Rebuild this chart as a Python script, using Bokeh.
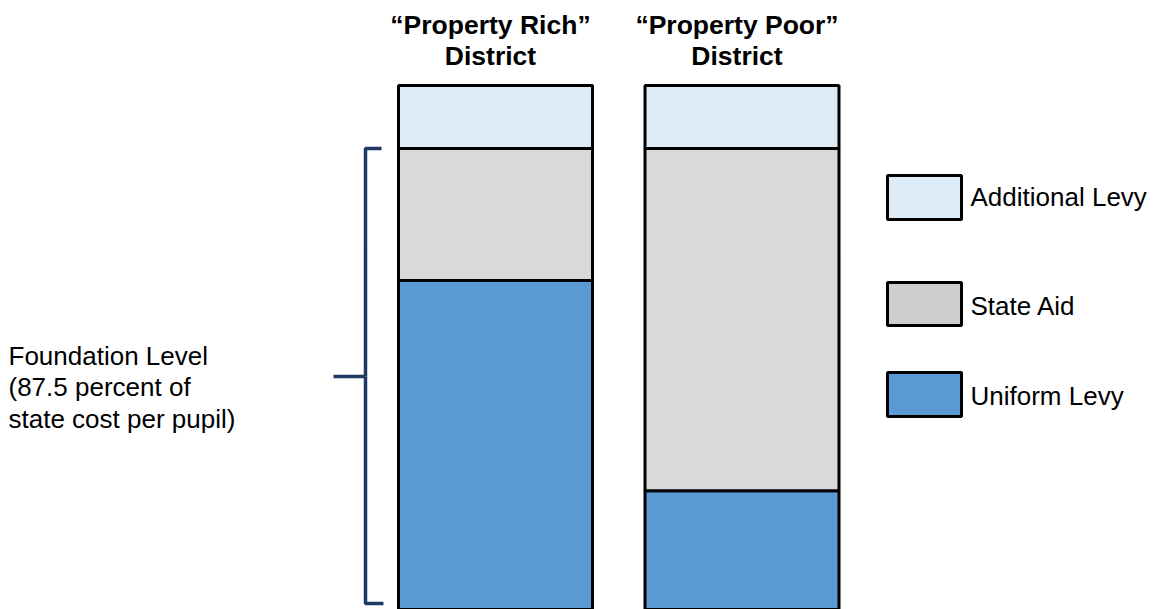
from bokeh.plotting import figure
from bokeh.models import Range1d, ColumnDataSource
from bokeh.core.properties import value
from bokeh.embed import file_html
from bokeh.resources import INLINE

# ---------------- data ----------------
districts = ["\u201cProperty Rich\u201d", "\u201cProperty Poor\u201d"]
district_sub = ["District", "District"]
uniform_levy = [71.5, 26.1]
state_aid = [28.5, 73.9]
additional_levy = [13.6, 13.6]
foundation_level = 100.0
series_names = ["Additional Levy", "State Aid", "Uniform Levy"]
left_note = ["Foundation Level", "(87.5 percent of", "state cost per pupil)"]

# ---------------- layout / style ----------------
W, H = 1156, 609
OFF = 0                      # observed page offset
BAR_SPACING_PX = 246.5       # px per x unit
BAR0_CENTER_IMG = 495.0
BAR_WIDTH = 0.787
PX_PER_UNIT = 4.63
ZERO_IMG_Y = 611.0

x0 = -(BAR0_CENTER_IMG - OFF) / BAR_SPACING_PX
x1 = x0 + W / BAR_SPACING_PX
y0 = (ZERO_IMG_Y - (OFF + H)) / PX_PER_UNIT
y1 = (ZERO_IMG_Y - OFF) / PX_PER_UNIT


def dx(img_x):
    return x0 + (img_x - OFF) / BAR_SPACING_PX


def dy(img_y):
    return (ZERO_IMG_Y - img_y) / PX_PER_UNIT


COL_ADD = "#DDEBF7"
COL_AID = "#D9D9D9"
COL_AID_LEG = "#D0CECE"
COL_UNI = "#5B9BD5"
NAVY = "#203864"
FONT = "Liberation Sans"

p = figure(width=W, height=H, output_backend="svg", toolbar_location=None,
           x_range=Range1d(x0, x1), y_range=Range1d(y0, y1),
           min_border=0, min_border_left=0, min_border_right=0,
           min_border_top=0, min_border_bottom=0)
p.axis.visible = False
p.grid.visible = False
p.outline_line_color = None
p.background_fill_color = "white"

xs = list(range(len(districts)))
bottom_uni = [0.0 - 3.0 for _ in xs]
top_uni = list(uniform_levy)
top_aid = [u + s for u, s in zip(uniform_levy, state_aid)]
top_add = [t + a for t, a in zip(top_aid, additional_levy)]

src = ColumnDataSource(dict(x=xs, b_uni=bottom_uni, t_uni=top_uni,
                            t_aid=top_aid, t_add=top_add))
p.vbar(x="x", width=BAR_WIDTH, bottom="b_uni", top="t_uni", source=src,
       fill_color=COL_UNI, line_color="black", line_width=3)
p.vbar(x="x", width=BAR_WIDTH, bottom="t_uni", top="t_aid", source=src,
       fill_color=COL_AID, line_color="black", line_width=3)
p.vbar(x="x", width=BAR_WIDTH, bottom="t_aid", top="t_add", source=src,
       fill_color=COL_ADD, line_color="black", line_width=3)

# Column headings
TITLE_SHIFT = -5.0 / BAR_SPACING_PX
tx = [i + TITLE_SHIFT for i in xs]
p.text(x=tx, y=[dy(24)] * 2, text=districts, text_align="center",
       text_baseline="alphabetic", text_font=value(FONT), text_font_size="26.5px",
       text_font_style="bold", text_color="black")
p.text(x=tx, y=[dy(55)] * 2, text=district_sub, text_align="center",
       text_baseline="alphabetic", text_font=value(FONT), text_font_size="26.5px",
       text_font_style="bold", text_color="black")

# Brace spanning the foundation level
bx = dx(365)
top_y = foundation_level
bot_y = dy(603)
mid_y = dy(376)
p.line(x=[dx(381), bx, bx], y=[top_y, top_y, mid_y], line_color=NAVY,
       line_width=3.5)
p.line(x=[bx, bx, dx(383)], y=[mid_y, bot_y, bot_y], line_color=NAVY,
       line_width=3.5)
p.line(x=[dx(333), bx], y=[mid_y, mid_y], line_color=NAVY, line_width=3.5)

# Left annotation
p.text(x=[dx(8)] * 3, y=[dy(355), dy(386.5), dy(418)], text=left_note,
       text_align="left", text_baseline="alphabetic", text_font=value(FONT),
       text_font_size="26px", text_color="black")

# Legend swatches
leg_tops = [175, 282, 372]
leg_bots = [219, 325, 416]
leg_cols = [COL_ADD, COL_AID_LEG, COL_UNI]
p.quad(left=[dx(887)] * 3, right=[dx(961)] * 3,
       top=[dy(t) for t in leg_tops], bottom=[dy(b) for b in leg_bots],
       fill_color=leg_cols, line_color="black", line_width=3)
p.text(x=[dx(970)] * 3, y=[dy(196), dy(305), dy(395)], text=series_names,
       text_align="left", text_baseline="alphabetic", text_font=value(FONT),
       text_font_size="26px", text_color="black")

open("out.html", "w").write(file_html(p, INLINE))
